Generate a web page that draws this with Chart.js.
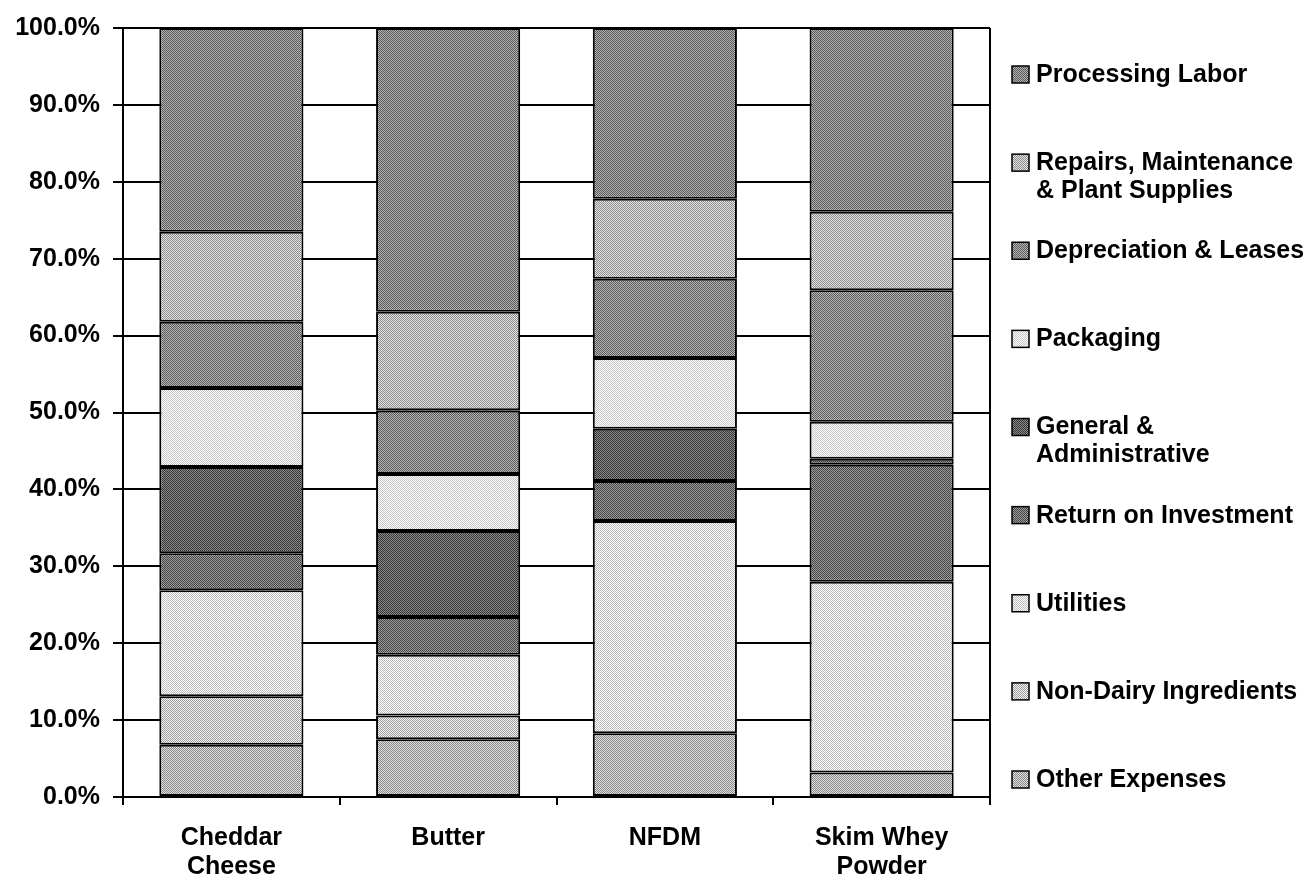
<!DOCTYPE html>
<html>
<head>
<meta charset="utf-8">
<script src="https://cdn.jsdelivr.net/npm/chart.js@4"></script>
<style>
    body { margin: 0; background: #fff; }
    #wrap { width: 1310px; height: 883px; }
</style>
</head>
<body>
<div id="wrap"><canvas id="costChart" width="1310" height="883"></canvas></div>
<script>
// Categories (x axis)
const products = [['Cheddar', 'Cheese'], ['Butter'], ['NFDM'], ['Skim Whey', 'Powder']];

// Cost shares (%), stacked from the bottom up
const otherExpenses     = [6.8, 7.5, 8.3, 3.2];
const nonDairy          = [6.3, 3.1, 0.0, 0.0];
const utilities         = [13.8, 7.9, 27.6, 24.8];
const returnOnInvest    = [4.8, 4.9, 5.2, 15.2];
const generalAdmin      = [11.2, 11.2, 6.8, 0.8];
const packaging         = [10.3, 7.4, 9.2, 4.8];
const depreciation      = [8.6, 8.3, 10.3, 17.1];
const repairs           = [11.7, 12.8, 10.4, 10.2];
const processingLabor   = [26.5, 36.9, 22.2, 23.9];

const yTicks = [0, 10, 20, 30, 40, 50, 60, 70, 80, 90, 100];

const FONT = "'Liberation Sans', Arial, sans-serif";

// dithered grey fills, a bit like the printed original
const dither = (base) => {
    const c = document.createElement('canvas');
    c.width = 2; c.height = 2;
    const x = c.getContext('2d');
    const lo = Math.max(0, base - 45), hi = Math.min(255, base + 45);
    x.fillStyle = `rgb(${hi},${hi},${hi})`; x.fillRect(0, 0, 2, 2);
    x.fillStyle = `rgb(${lo},${lo},${lo})`; x.fillRect(0, 0, 1, 1); x.fillRect(1, 1, 1, 1);
    return x.createPattern(c, 'repeat');
};

const series = [
    { label: 'Other Expenses', data: otherExpenses, grey: 180 },
    { label: 'Non-Dairy Ingredients', data: nonDairy, grey: 200 },
    { label: 'Utilities', data: utilities, grey: 232 },
    { label: 'Return on Investment', data: returnOnInvest, grey: 112 },
    { label: 'General &\nAdministrative', data: generalAdmin, grey: 96 },
    { label: 'Packaging', data: packaging, grey: 242 },
    { label: 'Depreciation & Leases', data: depreciation, grey: 136 },
    { label: 'Repairs, Maintenance\n& Plant Supplies', data: repairs, grey: 184 },
    { label: 'Processing Labor', data: processingLabor, grey: 134 }
];

// right-hand border of the plot box + the legend column
const framePlugin = {
    id: 'frame',
    afterDraw(chart) {
        const { ctx, chartArea } = chart;
        ctx.save();
        ctx.strokeStyle = '#000';
        ctx.lineWidth = 2;
        ctx.beginPath();
        ctx.moveTo(chartArea.right, chartArea.top);
        ctx.lineTo(chartArea.right, chartArea.bottom);
        ctx.stroke();

        const items = chart.data.datasets.slice().reverse();
        const x0 = chartArea.right + 22;
        const first = chartArea.top + 46;
        const last = chartArea.bottom - 18;
        const step = (last - first) / (items.length - 1);
        ctx.font = `bold 25px ${FONT}`;
        ctx.textBaseline = 'middle';
        items.forEach((ds, i) => {
            const y = first + i * step;
            ctx.fillStyle = ds.backgroundColor;
            ctx.fillRect(x0, y - 8, 17, 17);
            ctx.lineWidth = 1.5;
            ctx.strokeStyle = '#000';
            ctx.strokeRect(x0, y - 8, 17, 17);
            ctx.fillStyle = '#000';
            ds.label.split('\n').forEach((line, j) => {
                ctx.fillText(line, x0 + 24, y + 1 + j * 28);
            });
        });
        ctx.restore();
    }
};

new Chart(document.getElementById('costChart'), {
    type: 'bar',
    data: {
        labels: products,
        datasets: series.map(s => ({
            label: s.label,
            data: s.data,
            backgroundColor: dither(s.grey),
            borderColor: '#000',
            borderWidth: 2,
            borderSkipped: false,
            categoryPercentage: 1,
            barPercentage: 0.665
        }))
    },
    options: {
        responsive: false,
        animation: false,
        layout: { padding: { top: 22, right: 320, left: 0, bottom: 0 } },
        plugins: {
            legend: { display: false },
            tooltip: { enabled: false }
        },
        scales: {
            x: {
                stacked: true,
                afterFit: (s) => { s.height = 86; },
                grid: { display: true, drawOnChartArea: false, tickLength: 8, color: '#000', lineWidth: 2, offset: true },
                border: { display: true, color: '#000', width: 2 },
                ticks: { color: '#000', padding: 19, font: { family: FONT, size: 25, weight: 'bold', lineHeight: 1.15 } }
            },
            y: {
                stacked: true,
                min: 0,
                max: 100,
                afterFit: (s) => { s.width = 123; },
                afterBuildTicks: (s) => { s.ticks = yTicks.map(v => ({ value: v })); },
                grid: { color: '#000', lineWidth: 2, tickLength: 10 },
                border: { display: true, color: '#000', width: 2 },
                ticks: {
                    color: '#000',
                    padding: 13,
                    font: { family: FONT, size: 25, weight: 'bold' },
                    callback: (v) => v.toFixed(1) + '%'
                }
            }
        }
    },
    plugins: [framePlugin]
});
</script>
</body>
</html>
